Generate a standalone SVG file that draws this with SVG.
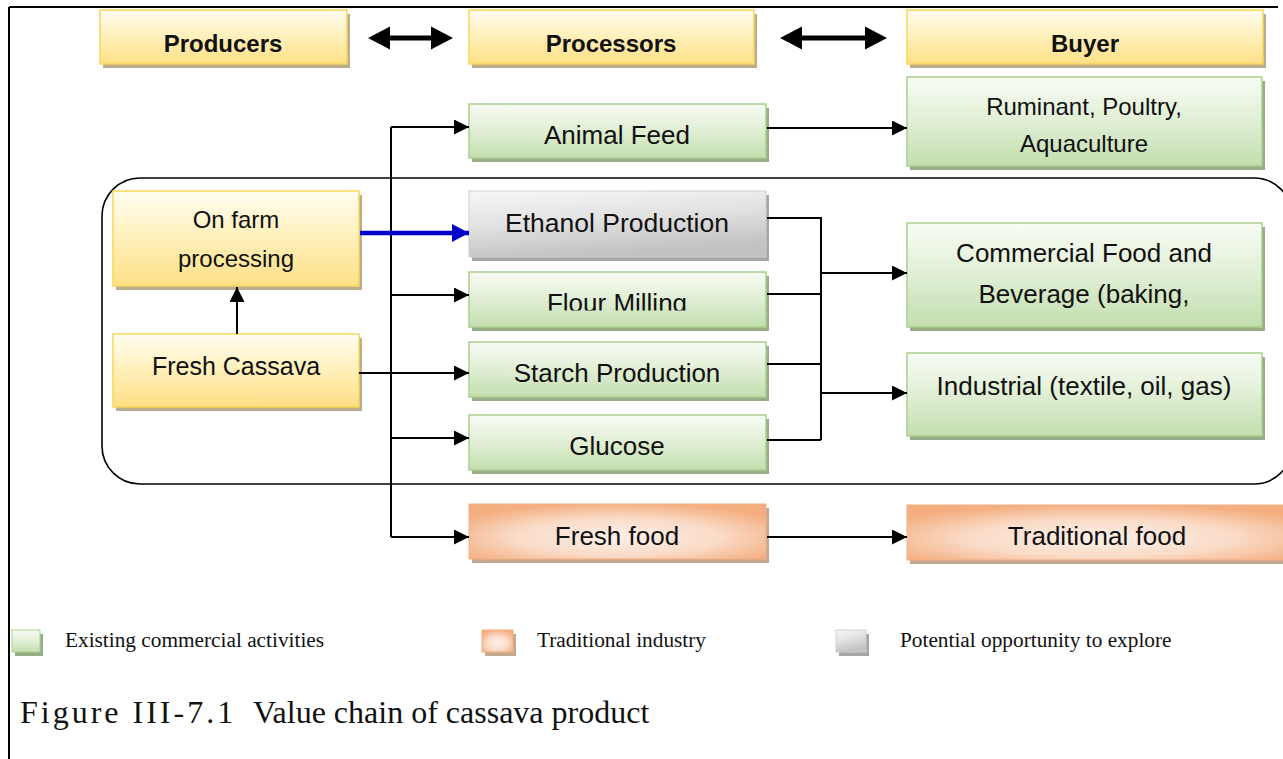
<svg xmlns="http://www.w3.org/2000/svg" width="1283" height="759" viewBox="0 0 1283 759">
<style>
.t{font-family:"Liberation Sans",Arial,sans-serif;fill:#111;text-anchor:middle}
.h{font-weight:bold;font-size:24px}
.s26{font-size:26px}
.s24{font-size:24px}
.lg{font-family:"Liberation Serif","Times New Roman",serif;font-size:21.3px;fill:#111}
.yb{fill:url(#gy);stroke:#f7d65a;stroke-width:1.5}
.gb{fill:url(#gg);stroke:#a9cf8f;stroke-width:1.5}
.ob{fill:url(#go);stroke:#f3b084;stroke-width:1}
.xb{fill:url(#gx);stroke:#cfcfcf;stroke-width:1}
.ys{fill:#b9ad8e}
.gs{fill:#97ad88}
.os{fill:#c4a892}
.xs{fill:#a6a6a6}
.c{fill:none;stroke:#000;stroke-width:2}
</style>
<defs>
<linearGradient id="gy" x1="0" y1="0" x2="0" y2="1"><stop offset="0" stop-color="#fffdf2"/><stop offset="0.45" stop-color="#fff1bf"/><stop offset="1" stop-color="#fddf85"/></linearGradient>
<linearGradient id="gg" x1="0" y1="0" x2="0" y2="1"><stop offset="0" stop-color="#f8fcf5"/><stop offset="0.45" stop-color="#e3f0d8"/><stop offset="1" stop-color="#c3deaf"/></linearGradient>
<linearGradient id="gx" x1="0" y1="0" x2="0.3" y2="1"><stop offset="0" stop-color="#f7f7f7"/><stop offset="0.5" stop-color="#e2e2e2"/><stop offset="1" stop-color="#c2c2c2"/></linearGradient>
<radialGradient id="go" cx="0.5" cy="0.6" r="0.62"><stop offset="0" stop-color="#fdf0e8"/><stop offset="0.55" stop-color="#fadbc7"/><stop offset="1" stop-color="#f4ae80"/></radialGradient>
<marker id="ah" markerUnits="userSpaceOnUse" markerWidth="16" markerHeight="16" refX="15" refY="7.5" orient="auto"><path d="M0,0 L15,7.5 L0,15 z" fill="#000"/></marker>
<marker id="ab" markerUnits="userSpaceOnUse" markerWidth="18" markerHeight="18" refX="17" refY="9" orient="auto"><path d="M0,0 L17,9 L0,18 z" fill="#0000cc"/></marker>
<clipPath id="clf"><rect x="469" y="272" width="297" height="38.5"/></clipPath>
</defs>

<g id="frame"><path d="M9,7 H1278 M9,7 V759" fill="none" stroke="#000" stroke-width="2"/></g>

<g id="container"><rect x="102" y="178" width="1190" height="306" rx="38" fill="none" stroke="#000" stroke-width="1.6"/></g>

<g id="header-arrows">
<polygon points="368,38 390,26.5 390,35.5 431,35.5 431,26.5 453,38 431,49.5 431,40.5 390,40.5 390,49.5" fill="#000"/>
<polygon points="780,38 802,26.5 802,35.5 865,35.5 865,26.5 887,38 865,49.5 865,40.5 802,40.5 802,49.5" fill="#000"/>
</g>

<g id="producers"><rect class="ys" x="103" y="14" width="247" height="54"/><rect class="yb" x="100" y="10" width="247" height="54"/><text class="t h" x="223" y="52">Producers</text></g>
<g id="processors"><rect class="ys" x="472" y="14" width="285" height="54"/><rect class="yb" x="469" y="10" width="285" height="54"/><text class="t h" x="611" y="52">Processors</text></g>
<g id="buyer"><rect class="ys" x="910" y="14" width="356" height="54"/><rect class="yb" x="907" y="10" width="356" height="54"/><text class="t h" x="1085" y="52">Buyer</text></g>

<g id="animal-feed"><rect class="gs" x="472" y="108" width="297" height="54"/><rect class="gb" x="469" y="104" width="297" height="54"/><text class="t s26" x="617" y="144">Animal Feed</text></g>
<g id="ruminant"><rect class="gs" x="910" y="81" width="355" height="89"/><rect class="gb" x="907" y="77" width="355" height="89"/><text class="t s24" x="1084" y="115">Ruminant, Poultry,</text><text class="t s24" x="1084" y="152">Aquaculture</text></g>

<g id="on-farm"><rect class="ys" x="116" y="195" width="246" height="95"/><rect class="yb" x="113" y="191" width="246" height="95"/><text class="t s24" x="236" y="228">On farm</text><text class="t s24" x="236" y="267">processing</text></g>
<g id="fresh-cassava"><rect class="ys" x="116" y="338" width="246" height="73"/><rect class="yb" x="113" y="334" width="246" height="73"/><text class="t" style="font-size:25px" x="236" y="375">Fresh Cassava</text></g>

<g id="ethanol"><rect class="xs" x="472" y="195" width="297" height="66"/><rect class="xb" x="469" y="191" width="297" height="66"/><text class="t" style="font-size:26.5px" x="617" y="232">Ethanol Production</text></g>
<g id="flour"><rect class="gs" x="472" y="276" width="297" height="55"/><rect class="gb" x="469" y="272" width="297" height="55"/><text class="t s26" x="617" y="312" clip-path="url(#clf)">Flour Milling</text></g>
<g id="starch"><rect class="gs" x="472" y="346" width="297" height="55"/><rect class="gb" x="469" y="342" width="297" height="55"/><text class="t s26" x="617" y="382">Starch Production</text></g>
<g id="glucose"><rect class="gs" x="472" y="419" width="297" height="55"/><rect class="gb" x="469" y="415" width="297" height="55"/><text class="t s26" x="617" y="455">Glucose</text></g>
<g id="fresh-food"><rect class="os" x="472" y="508" width="297" height="55"/><rect class="ob" x="469" y="504" width="297" height="55"/><text class="t s26" x="617" y="545">Fresh food</text></g>

<g id="commercial"><rect class="gs" x="910" y="227" width="355" height="104"/><rect class="gb" x="907" y="223" width="355" height="104"/><text class="t s26" x="1084" y="262">Commercial Food and</text><text class="t s26" x="1084" y="303">Beverage (baking,</text></g>
<g id="industrial"><rect class="gs" x="910" y="357" width="355" height="83"/><rect class="gb" x="907" y="353" width="355" height="83"/><text class="t s26" x="1084" y="395">Industrial (textile, oil, gas)</text></g>
<g id="traditional"><rect class="os" x="910" y="509" width="390" height="55"/><rect class="ob" x="907" y="505" width="390" height="55"/><text class="t s26" x="1097" y="545">Traditional food</text></g>

<g id="connectors">
<path class="c" d="M391,127 V537"/>
<path class="c" d="M391,127 H469" marker-end="url(#ah)"/>
<path class="c" d="M391,295 H469" marker-end="url(#ah)"/>
<path class="c" d="M391,438 H469" marker-end="url(#ah)"/>
<path class="c" d="M391,537 H469" marker-end="url(#ah)"/>
<path class="c" d="M359,373 H469" marker-end="url(#ah)"/>
<path class="c" d="M237,334 V287" marker-end="url(#ah)"/>
<path d="M360,233 H469" fill="none" stroke="#0000cc" stroke-width="4.5" marker-end="url(#ab)"/>
<path class="c" d="M767,128 H907" marker-end="url(#ah)"/>
<path class="c" d="M767,218 H821 V440 M767,294 H821 M767,364 H821 M767,440 H821"/>
<path class="c" d="M821,273 H907" marker-end="url(#ah)"/>
<path class="c" d="M821,393 H907" marker-end="url(#ah)"/>
<path class="c" d="M767,537 H907" marker-end="url(#ah)"/>
</g>

<g id="legend">
<rect class="gs" x="15" y="634" width="28" height="22"/><rect x="12" y="630" width="28" height="22" fill="url(#gg)" stroke="#a9cf8f"/>
<text class="lg" x="65" y="647">Existing commercial activities</text>
<rect class="os" x="485" y="634" width="31" height="22"/><rect x="482" y="630" width="31" height="22" fill="url(#go)" stroke="#f3b084"/>
<text class="lg" x="537" y="647">Traditional industry</text>
<rect class="xs" x="839" y="634" width="30" height="22"/><rect x="836" y="630" width="30" height="22" fill="url(#gx)" stroke="#cfcfcf"/>
<text class="lg" x="900" y="647">Potential opportunity to explore</text>
</g>

<g id="caption"><text x="20" y="723" style="font-family:'Liberation Serif','Times New Roman',serif;font-size:32px;fill:#111"><tspan letter-spacing="3">Figure III-7.1</tspan><tspan x="253">Value chain of cassava product</tspan></text></g>
</svg>
